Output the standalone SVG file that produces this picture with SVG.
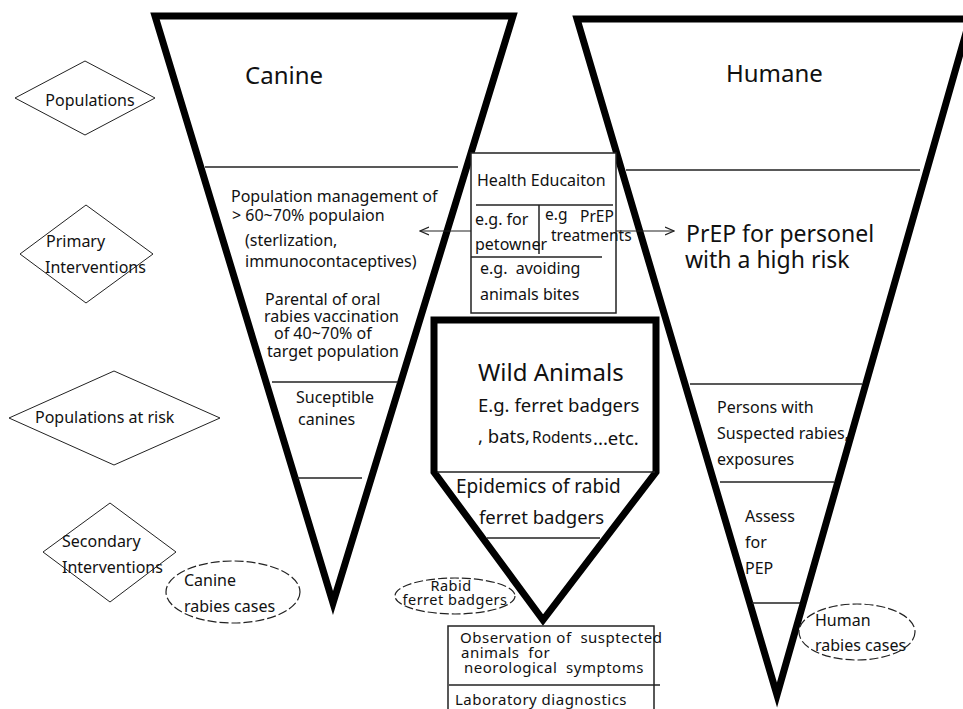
<svg xmlns="http://www.w3.org/2000/svg" width="963" height="709" viewBox="0 0 963 709">
<defs>
<style>
text{font-family:"Noto Sans","Open Sans","DejaVu Sans",sans-serif;fill:#111;}
.thick{fill:none;stroke:#000;stroke-width:7;stroke-linejoin:miter;}
.thin{fill:none;stroke:#222;stroke-width:1.5;}
.dia{fill:#fff;stroke:#222;stroke-width:1;}
.ell{fill:#fff;stroke:#222;stroke-width:1.2;stroke-dasharray:9 3;}
.t16{font-size:16px;}
.t15{font-size:15.5px;}
.obs{font-size:15px;letter-spacing:0.5px;}
.rab{font-size:14.5px;letter-spacing:0.5px;}
.t24{font-size:24px;}
.t23{font-size:23px;}
.t18{font-size:18.5px;}
.t19{font-size:19px;}
.conn{fill:none;stroke:#222;stroke-width:1.2;}
</style>
<marker id="open" viewBox="0 0 10 10" refX="9" refY="5" markerWidth="10" markerHeight="10" markerUnits="userSpaceOnUse" orient="auto">
<path d="M0,1 L9,5 L0,9" fill="none" stroke="#222" stroke-width="1.2"/>
</marker>
</defs>
<rect width="963" height="709" fill="#fff"/>

<g id="canine">
<polygon class="thick" points="155,16 513,16 333,603"/>
<line class="thin" x1="205" y1="167" x2="458" y2="167"/>
<line class="thin" x1="272" y1="382" x2="398" y2="382"/>
<line class="thin" x1="297" y1="478" x2="362" y2="478"/>
<text class="t24" x="245" y="84">Canine</text>
<text class="t16" x="231" y="202">Population management of</text>
<text class="t16" x="232" y="221">&gt; 60~70% populaion</text>
<text class="t16" x="245" y="246">(sterlization,</text>
<text class="t16" x="245" y="267">immunocontaceptives)</text>
<text class="t16" x="265" y="305">Parental of oral</text>
<text class="t16" x="264" y="322">rabies vaccination</text>
<text class="t16" x="274" y="339">of 40~70% of</text>
<text class="t16" x="267" y="357">target population</text>
<text class="t16" x="296" y="403">Suceptible</text>
<text class="t16" x="298" y="425">canines</text>
</g>

<g id="humane">
<polygon class="thick" points="577,19 970,19 777,695"/>
<line class="thin" x1="626" y1="170" x2="920" y2="170"/>
<line class="thin" x1="690" y1="384" x2="862" y2="384"/>
<line class="thin" x1="720" y1="482" x2="834" y2="482"/>
<line class="thin" x1="752" y1="603" x2="800" y2="603"/>
<text class="t24" x="726" y="82">Humane</text>
<text class="t23" x="686" y="242">PrEP for personel</text>
<text class="t23" x="685" y="268">with a high risk</text>
<text class="t16" x="717" y="413">Persons with</text>
<text class="t16" x="717" y="439">Suspected rabies,</text>
<text class="t16" x="717" y="465">exposures</text>
<text class="t16" x="745" y="522">Assess</text>
<text class="t16" x="745" y="548">for</text>
<text class="t16" x="745" y="574">PEP</text>
</g>

<g id="health-education">
<rect x="471" y="153" width="145" height="160" fill="#fff" stroke="#222" stroke-width="1.5"/>
<line class="thin" x1="476" y1="205" x2="613" y2="205"/>
<line class="thin" x1="539" y1="205" x2="539" y2="254"/>
<line class="thin" x1="471" y1="257" x2="602" y2="257"/>
<text class="t16" x="477" y="186">Health Educaiton</text>
<text class="t16" x="475" y="225">e.g. for</text>
<text class="t16" x="475" y="250">petowner</text>
<text class="t15" x="545" y="220">e.g</text>
<text class="t15" x="580" y="222">PrEP</text>
<text class="t15" x="551" y="241">treatments</text>
<text class="t16" x="480" y="274" xml:space="preserve">e.g.  avoiding</text>
<text class="t16" x="480" y="300">animals bites</text>
</g>

<g id="wild-animals">
<path class="thick" d="M434,472 L434,320 L656,320 L656,472 L543,620 Z"/>
<line class="thin" x1="437" y1="472" x2="655" y2="472"/>
<line class="thin" x1="487" y1="538" x2="600" y2="538"/>
<text class="t24" x="478" y="381">Wild Animals</text>
<text class="t18" x="478" y="412">E.g. ferret badgers</text>
<text class="t18" x="478" y="443">, bats,</text>
<text class="t15" x="532" y="443">Rodents</text>
<text class="t18" x="593" y="445">...etc.</text>
<text class="t19" x="456" y="493">Epidemics of rabid</text>
<text class="t18" x="479" y="524">ferret badgers</text>
</g>

<g id="observation">
<rect x="448" y="626" width="206" height="90" fill="#fff" stroke="#222" stroke-width="1.5"/>
<line class="thin" x1="449" y1="685" x2="660" y2="685"/>
<text class="obs" x="460" y="643" xml:space="preserve">Observation of  susptected</text>
<text class="obs" x="461" y="658" xml:space="preserve">animals  for</text>
<text class="obs" x="464" y="673" xml:space="preserve">neorological  symptoms</text>
<text class="obs" x="455" y="705">Laboratory diagnostics</text>
</g>

<g id="rabid-ferret-badgers">
<ellipse class="ell" cx="455" cy="596" rx="60" ry="18"/>
<text class="rab" x="451" y="591" text-anchor="middle">Rabid</text>
<text class="rab" x="455" y="605" text-anchor="middle">ferret badgers</text>
</g>

<g id="canine-rabies-cases">
<ellipse class="ell" cx="233" cy="592" rx="67" ry="31"/>
<text class="t16" x="184" y="586">Canine</text>
<text class="t16" x="184" y="612">rabies cases</text>
</g>

<g id="human-rabies-cases">
<ellipse class="ell" cx="857" cy="632" rx="58" ry="28"/>
<text class="t16" x="815" y="626">Human</text>
<text class="t16" x="815" y="651">rabies cases</text>
</g>

<g id="populations">
<polygon class="dia" points="15,98 85,61 155,98 85,135"/>
<text class="t16" x="90" y="106" text-anchor="middle">Populations</text>
</g>

<g id="primary-interventions">
<polygon class="dia" points="20,254 86,205 153,254 86,303"/>
<text class="t16" x="46" y="247">Primary</text>
<text class="t16" x="45" y="273">Interventions</text>
</g>

<g id="populations-at-risk">
<polygon class="dia" points="9,418 114,371 220,418 114,465"/>
<text class="t16" x="35" y="423">Populations at risk</text>
</g>

<g id="secondary-interventions">
<polygon class="dia" points="43,552 110,503 176,552 110,602"/>
<text class="t16" x="62" y="547">Secondary</text>
<text class="t16" x="62" y="573">Interventions</text>
</g>

<g id="connectors">
<line class="conn" x1="471" y1="231" x2="420" y2="231" marker-end="url(#open)"/>
<line class="conn" x1="616" y1="231" x2="674" y2="231" marker-end="url(#open)"/>
</g>
</svg>
